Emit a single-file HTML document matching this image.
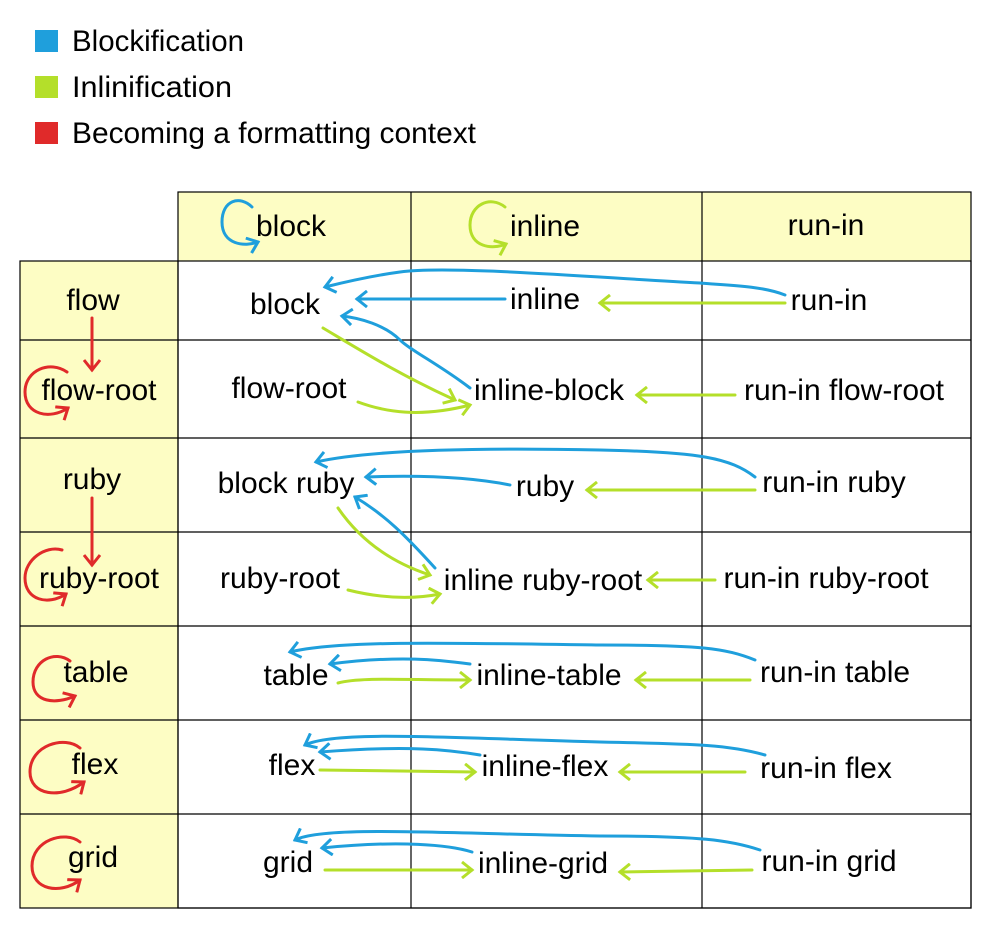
<!DOCTYPE html>
<html><head><meta charset="utf-8"><style>
html,body{margin:0;padding:0;background:#fff;}
svg{display:block;}
text{font-family:"Liberation Sans",sans-serif;font-size:30px;fill:#000;}
</style></head><body>
<svg width="1005" height="936" viewBox="0 0 1005 936" xmlns="http://www.w3.org/2000/svg">
<defs>
<marker id="hb" markerWidth="16" markerHeight="18" refX="12" refY="9" orient="auto" markerUnits="userSpaceOnUse"><path d="M2,1 L12,9 L2,17" fill="none" stroke="#1f9fdc" stroke-width="3"/></marker>
<marker id="hg" markerWidth="16" markerHeight="18" refX="12" refY="9" orient="auto" markerUnits="userSpaceOnUse"><path d="M2,1 L12,9 L2,17" fill="none" stroke="#b4df2a" stroke-width="3"/></marker>
<marker id="hr" markerWidth="16" markerHeight="18" refX="12" refY="9" orient="auto" markerUnits="userSpaceOnUse"><path d="M2,1 L12,9 L2,17" fill="none" stroke="#e02a2a" stroke-width="3"/></marker>
</defs>
<rect x="35" y="30" width="23" height="22" fill="#1f9fdc"/>
<rect x="35" y="76" width="23" height="22" fill="#b4df2a"/>
<rect x="35" y="122" width="23" height="22" fill="#e02a2a"/>
<text x="72" y="51" textLength="172" lengthAdjust="spacingAndGlyphs">Blockification</text>
<text x="72" y="97" textLength="160" lengthAdjust="spacingAndGlyphs">Inlinification</text>
<text x="72" y="143" textLength="404" lengthAdjust="spacingAndGlyphs">Becoming a formatting context</text>
<rect x="178" y="192" width="793" height="69" fill="#fdfdc4"/>
<rect x="20" y="261" width="158" height="647" fill="#fdfdc4"/>
<g stroke="#000" stroke-width="1.2" fill="none">
<rect x="178" y="192" width="793" height="716"/>
<rect x="20" y="261" width="951" height="647"/>
<line x1="411" y1="192" x2="411" y2="908"/><line x1="702" y1="192" x2="702" y2="908"/>
<line x1="178" y1="261" x2="178" y2="908"/>
<line x1="20" y1="340" x2="971" y2="340"/><line x1="20" y1="438" x2="971" y2="438"/>
<line x1="20" y1="532" x2="971" y2="532"/><line x1="20" y1="626" x2="971" y2="626"/>
<line x1="20" y1="720" x2="971" y2="720"/><line x1="20" y1="814" x2="971" y2="814"/>
</g>
<g text-anchor="middle" style="font-size:28px">
<text x="291" y="236">block</text><text x="545" y="236">inline</text><text x="826" y="235">run-in</text>
<text x="93" y="310">flow</text><text x="285" y="314">block</text><text x="545" y="309">inline</text><text x="829" y="310">run-in</text>
<text x="99" y="400">flow-root</text><text x="289" y="398">flow-root</text><text x="549" y="400">inline-block</text><text x="844" y="400">run-in flow-root</text>
<text x="92" y="489">ruby</text><text x="286" y="493">block ruby</text><text x="545" y="496">ruby</text><text x="834" y="492">run-in ruby</text>
<text x="99" y="588">ruby-root</text><text x="280" y="588">ruby-root</text><text x="543" y="590">inline ruby-root</text><text x="826" y="588">run-in ruby-root</text>
<text x="96" y="682">table</text><text x="296" y="685">table</text><text x="549" y="685">inline-table</text><text x="835" y="682">run-in table</text>
<text x="95" y="774">flex</text><text x="292" y="775">flex</text><text x="545" y="776">inline-flex</text><text x="826" y="778">run-in flex</text>
<text x="93" y="867">grid</text><text x="288" y="872">grid</text><text x="543" y="873">inline-grid</text><text x="829" y="871">run-in grid</text>
</g>
<g fill="none" stroke="#1f9fdc" stroke-width="3" stroke-linecap="round">
<path d="M252,207 C240,195 222,200 222,222 C222,245 245,247 258,242" marker-end="url(#hb)"/>
<path d="M785,295 C760,285 720,285 700,283 C600,278 450,265 400,272 C370,276 345,282 325,287" marker-end="url(#hb)"/>
<path d="M505,299 L357,299" marker-end="url(#hb)"/>
<path d="M470,388 C440,365 410,350 400,340 C385,325 360,318 342,316" marker-end="url(#hb)"/>
<path d="M755,477 C730,458 700,452 600,450 C450,447 360,452 316,462" marker-end="url(#hb)"/>
<path d="M510,485 C470,477 420,475 366,477" marker-end="url(#hb)"/>
<path d="M435,568 C405,535 385,515 355,497" marker-end="url(#hb)"/>
<path d="M755,660 C725,648 700,645 600,645 C450,643 340,640 290,652" marker-end="url(#hb)"/>
<path d="M470,664 C440,660 400,655 330,664" marker-end="url(#hb)"/>
<path d="M765,755 C730,745 700,744 600,742 C450,738 335,730 305,745" marker-end="url(#hb)"/>
<path d="M480,755 C450,750 410,745 320,752" marker-end="url(#hb)"/>
<path d="M760,850 C730,840 700,836 600,836 C450,834 325,825 295,840" marker-end="url(#hb)"/>
<path d="M472,852 C450,845 400,840 322,848" marker-end="url(#hb)"/>
</g>
<g fill="none" stroke="#b4df2a" stroke-width="3" stroke-linecap="round">
<path d="M505,207 C490,195 470,205 470,225 C470,247 492,250 506,244" marker-end="url(#hg)"/>
<path d="M785,303 L600,303" marker-end="url(#hg)"/>
<path d="M323,328 C360,350 400,375 455,400" marker-end="url(#hg)"/>
<path d="M358,402 C385,412 420,418 470,405" marker-end="url(#hg)"/>
<path d="M735,395 L637,395" marker-end="url(#hg)"/>
<path d="M755,490 L587,490" marker-end="url(#hg)"/>
<path d="M338,508 C360,540 390,562 430,575" marker-end="url(#hg)"/>
<path d="M348,590 C380,598 410,600 440,594" marker-end="url(#hg)"/>
<path d="M715,580 L648,580" marker-end="url(#hg)"/>
<path d="M338,683 C360,677 400,680 470,680" marker-end="url(#hg)"/>
<path d="M750,680 L636,680" marker-end="url(#hg)"/>
<path d="M320,770 L475,772" marker-end="url(#hg)"/>
<path d="M745,772 L620,772" marker-end="url(#hg)"/>
<path d="M325,870 L472,870" marker-end="url(#hg)"/>
<path d="M752,870 L620,872" marker-end="url(#hg)"/>
</g>
<g fill="none" stroke="#e02a2a" stroke-width="3" stroke-linecap="round">
<path d="M92,318 L92,370" marker-end="url(#hr)"/>
<path d="M92,498 L92,565" marker-end="url(#hr)"/>
<path d="M67,372 C50,360 25,370 25,392 C25,415 50,420 68,408" marker-end="url(#hr)"/>
<path d="M62,550 C45,545 25,560 25,578 C25,600 48,606 66,594" marker-end="url(#hr)"/>
<path d="M70,661 C55,650 33,660 33,682 C33,702 55,705 75,696" marker-end="url(#hr)"/>
<path d="M80,748 C65,735 30,745 30,772 C30,795 60,800 84,782" marker-end="url(#hr)"/>
<path d="M80,842 C65,830 32,840 32,866 C32,890 60,895 80,880" marker-end="url(#hr)"/>
</g>
</svg>
</body></html>
